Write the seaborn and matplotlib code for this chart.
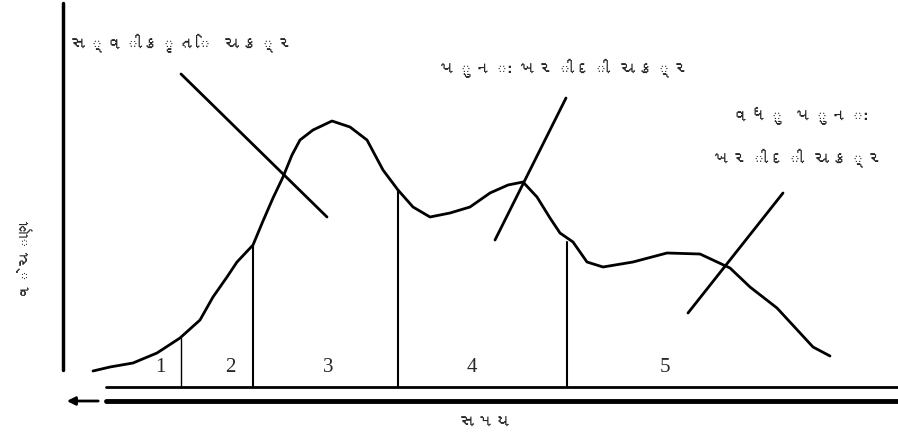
import matplotlib
matplotlib.use("Agg")
import matplotlib.pyplot as plt
import seaborn as sns
import pandas as pd
from matplotlib import font_manager
from matplotlib.ft2font import FT2Font

# ---- data (x = time position, y = sales level) ----
time = [93, 110, 133, 157, 180, 200, 213, 227, 237, 253, 263, 273, 283, 292, 300,
        313, 332, 350, 367, 383, 398, 413, 430, 450, 470, 490, 508, 523, 537,
        550, 560, 573, 587, 603, 633, 667, 700, 730, 750, 777, 813, 830]
sales = [67, 71, 75, 85, 100, 118, 141, 161, 176, 193, 217, 240, 261, 283, 298,
         308, 317, 311, 298, 268, 248, 231, 221, 225, 231, 245, 253, 256, 241,
         220, 205, 196, 176, 171, 176, 185, 184, 170, 151, 130, 91, 82]

stage_bounds = [181, 253, 398, 567]
stage_tops = [100, 193, 248, 196]
stage_labels = ["1", "2", "3", "4", "5"]
stage_label_x = [160, 230, 328, 472, 665]

callouts = ["સ્વીકૃતિ ચક્ર", "પુનઃ ખરીદી ચક્ર", "વધુ પુનઃ\nખરીદી ચક્ર"]
callout_xy = [(183, 395), (565, 370), (800, 301)]
pointer_from = [(181, 364), (566, 340), (783, 245)]
pointer_to = [(327, 221), (495, 198), (688, 125)]

xlabel = "સમય"
ylabel = "વેચાણ"

# ---- font search for Gujarati glyphs ----
guj_font = None
for f in font_manager.findSystemFonts():
    try:
        ft = FT2Font(f)
        cmap = ft.get_charmap()
        if 0x0A9A in cmap and 0x0A95 in cmap:
            guj_font = font_manager.FontProperties(fname=f)
            break
    except Exception:
        pass

sns.set_theme(style="white")
plt.rcParams['font.family'] = ['DejaVu Sans']

fig = plt.figure(figsize=(8.98, 4.38), dpi=100)
ax = fig.add_axes([0, 0, 1, 1])
ax.set_xlim(0, 898)
ax.set_ylim(0, 438)
ax.axis("off")

df = pd.DataFrame({"time": time, "sales": sales})
sns.lineplot(data=df, x="time", y="sales", sort=False, color="black", lw=2.0, ax=ax)

base_y = 51
# stage dividers
for i, (bx, top) in enumerate(zip(stage_bounds, stage_tops)):
    ax.plot([bx, bx], [base_y, top], color="black", lw=1.0 if i == 0 else 1.5)

# axes drawn as lines
ax.plot([106, 898], [base_y, base_y], color="black", lw=2.0)
ax.plot([106, 898], [37, 37], color="black", lw=3.5)
ax.annotate("", xy=(64, 37), xytext=(101, 37),
            arrowprops=dict(arrowstyle="-|>", color="black", lw=2, mutation_scale=12))
ax.plot([63, 63], [68, 435], color="black", lw=2.5)

fp = guj_font.copy() if guj_font is not None else font_manager.FontProperties()
fp.set_size(13)
fp.set_weight("bold")
for lab, lx in zip(stage_labels, stage_label_x):
    ax.text(lx, 71, lab, ha="center", va="center", fontsize=15,
            family="Liberation Serif")

for txt, (cx, cy), p0, p1 in zip(callouts, callout_xy, pointer_from, pointer_to):
    ax.text(cx, cy, txt, ha="center", va="center", fontproperties=fp,
            linespacing=2.6)
    ax.plot([p0[0], p1[0]], [p0[1], p1[1]], color="black", lw=2.0)

ax.text(486, 14, xlabel, ha="center", va="center", fontproperties=fp)
fp2 = fp.copy()
fp2.set_size(12)
fp2.set_weight("normal")
ax.text(22, 185, ylabel, ha="center", va="center", rotation=90,
        fontproperties=fp2)

fig.savefig("out.png", dpi=100)
